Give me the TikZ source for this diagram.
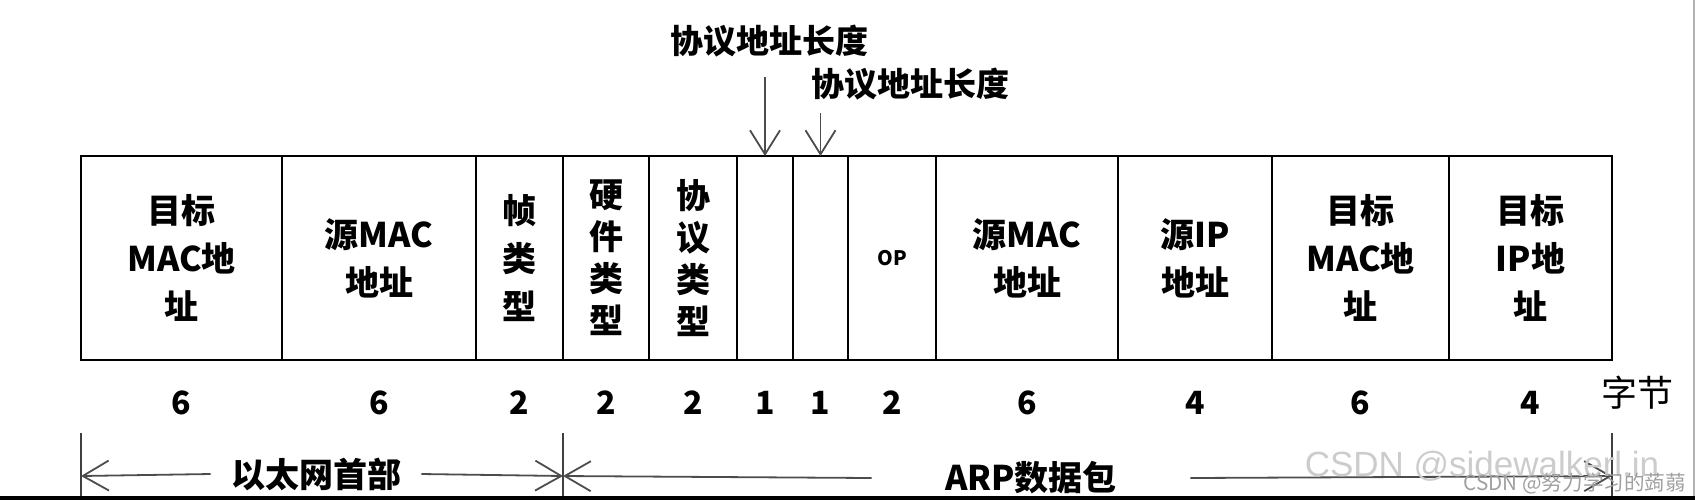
\documentclass[tikz,border=0pt]{standalone}
\usepackage{fontspec}
\setmainfont{Noto Sans CJK SC}
\newfontfamily\wmfont{Liberation Sans}
\usepackage{tikz}
\usetikzlibrary{arrows.meta,positioning}

\begin{document}
\begin{tikzpicture}[
            x=0.5pt,
            y=-0.5pt,
            field/.style={draw, line width=1.3pt, minimum height=102pt, inner sep=0pt, outer sep=0pt, align=center, font=\fontsize{17}{24}\selectfont\bfseries},
            vfield/.style={field, font=\fontsize{17}{21}\selectfont\bfseries},
            num/.style={font=\fontsize{16}{16}\selectfont\bfseries, inner sep=0pt},
            toplab/.style={font=\fontsize{16.5}{16.5}\selectfont\bfseries, inner sep=0pt},
            dimlab/.style={font=\fontsize{17}{17}\selectfont\bfseries, inner ysep=0pt},
            ptr/.style={black!70, line width=0.9pt, -{Straight Barb[length=12pt, width=15pt]}},
            dim/.style={black!70, line width=0.9pt, -{Straight Barb[length=13pt, width=15pt]}},
            tick/.style={black!75, line width=0.9pt},
        ]
        \useasboundingbox (0,0) rectangle (1695,500);
        % frame fields
        \node[field, minimum width=100.5pt, anchor=north west] (dst) at (81,156) {目标\\MAC地\\址};
        \node[field, minimum width=97pt, right=0pt of dst] (src) {源MAC\\地址};
        \node[field, minimum width=43.5pt, right=0pt of src] (ftype) {帧\\类\\型};
        \node[vfield, minimum width=43pt, right=0pt of ftype] (htype) {硬\\件\\类\\型};
        \node[vfield, minimum width=44pt, right=0pt of htype] (ptype) {协\\议\\类\\型};
        \node[field, minimum width=28pt, right=0pt of ptype] (hlen) {};
        \node[field, minimum width=27.5pt, right=0pt of hlen] (plen) {};
        \node[field, minimum width=44pt, right=0pt of plen, font=\fontsize{10}{10}\selectfont\bfseries] (op) {OP};
        \node[field, minimum width=91pt, right=0pt of op] (smac) {源MAC\\地址};
        \node[field, minimum width=77pt, right=0pt of smac] (sip) {源IP\\地址};
        \node[field, minimum width=88.5pt, right=0pt of sip] (dmac) {目标\\MAC地\\址};
        \node[field, minimum width=81.5pt, right=0pt of dmac] (dip) {目标\\IP地\\址};
        % byte counts
        \foreach \f/\n in {dst/6, src/6, ftype/2, htype/2, ptype/2, hlen/1, plen/1, op/2, smac/6, sip/4, dmac/6, dip/4} {
            \node[num] (n-\f) at (\f.center |- 0,403) {\n};
        }
        \node[font=\fontsize{18}{18}\selectfont, inner sep=0pt] (bytes) at (1637,393) {字节};
        % length labels on top
        \node[toplab] (hlenlab) at (769,41) {协议地址长度};
        \node[toplab] (plenlab) at (910,84) {协议地址长度};
        \coordinate (hlentail) at (hlen.north |- 0,77);
        \coordinate (plentail) at (plen.north |- 0,113);
        \draw[ptr] (hlentail) -- (hlen.north);
        \draw[ptr] (plentail) -- (plen.north);
        % spans below
        \coordinate (ethL) at (dst.south west |- 0,476);
        \coordinate (ethR) at (htype.south west |- 0,476);
        \coordinate (arpR) at (dip.south east |- 0,476);
        \draw[tick] (dst.south west |- 0,433) -- (dst.south west |- 0,497);
        \draw[tick] (htype.south west |- 0,433) -- (htype.south west |- 0,497);
        \draw[tick] (dip.south east |- 0,433) -- (dip.south east |- 0,497);
        \node[dimlab, inner xsep=10pt] (eth) at (316,474) {以太网首部};
        \node[dimlab, inner xsep=36.5pt] (arp) at (1031,478) {ARP数据包};
        \draw[dim] (eth.west) -- (ethL);
        \draw[dim] (eth.east) -- (ethR);
        \draw[dim] (arp.west) -- (ethR);
        \draw[dim] (arp.east) -- (arpR);
        % screenshot edges and watermarks
        \fill[black] (0,496) rectangle (1695,500);
        \draw[gray!60, line width=1pt] (1694,0) -- (1694,496);
        \node[font=\wmfont\fontsize{17.5}{17.5}\selectfont, text=gray!40, inner sep=0pt] (wmA) at (1482,466) {CSDN @sidewalkerl.in};
        \node[font=\fontsize{10.3}{10.3}\selectfont, text=gray!75, inner sep=0pt] (wmB) at (1575,484) {CSDN @努力学习的蒟蒻};
        \end{tikzpicture}
\end{document}
